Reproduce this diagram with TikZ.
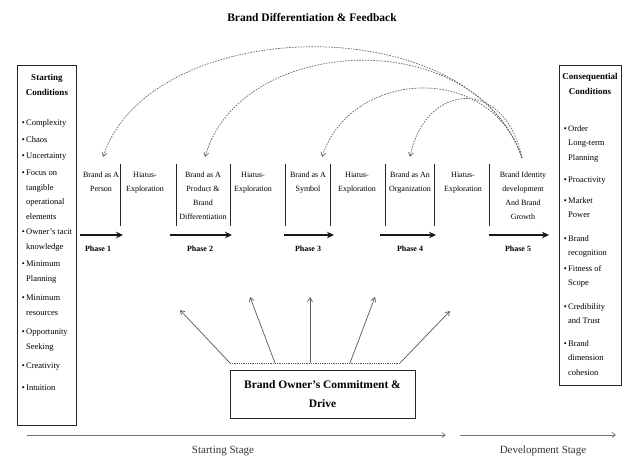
\documentclass[tikz,border=0pt]{standalone}
\usepackage{fontspec}
\setmainfont{Liberation Serif}
\usetikzlibrary{arrows.meta}
\begin{document}
\begin{tikzpicture}[x=1pt,y=-1pt,
  txt/.style={font=\fontsize{8}{14}\selectfont, align=center, inner sep=0pt, anchor=north},
  item/.style={font=\fontsize{8.5}{14.5}\selectfont, align=left, inner sep=0pt, anchor=north west},
  ttl/.style={font=\bfseries\fontsize{9}{15}\selectfont, align=center, inner sep=0pt, anchor=north},
  plabel/.style={font=\bfseries\fontsize{8}{10}\selectfont, inner sep=0pt},
  box/.style={draw=black!85, line width=0.8pt, inner sep=0pt},
  pline/.style={draw=black!85, line width=0.7pt},
  parrow/.style={draw=black!90, line width=1.6pt, -{Stealth[length=7pt,width=6.5pt]}},
  fb/.style={draw=black!60, line width=0.7pt, dash pattern=on 1.6pt off 1.2pt, -{Straight Barb[length=4pt,width=5pt]}},
  fan/.style={draw=black!65, line width=0.7pt, -{Straight Barb[length=4pt,width=5pt]}},
  stage/.style={draw=black!55, line width=0.7pt, -{Straight Barb[length=3.5pt,width=5pt]}},
]
\useasboundingbox (0,0) rectangle (630,459);
\fill[white] (0,0) rectangle (630,459);

% title
\node[font=\bfseries\fontsize{11.5}{13}\selectfont, inner sep=0pt] (title) at (312,18) {Brand Differentiation \& Feedback};

% left box
\node[box, minimum width=59pt, minimum height=360pt, anchor=north west] (lbox) at (17,65) {};
\node[ttl] (lttl) at (47,74) {Starting\\Conditions};
\node[item] (l1) at (26,119) {\llap{\textbullet\,}Complexity};
\node[item] (l2) at (26,136) {\llap{\textbullet\,}Chaos};
\node[item] (l3) at (26,153) {\llap{\textbullet\,}Uncertainty};
\node[item] (l4) at (26,170) {\llap{\textbullet\,}Focus on\\tangible\\operational\\elements};
\node[item] (l5) at (26,229) {\llap{\textbullet\,}Owner's tacit\\knowledge};
\node[item] (l6) at (26,261) {\llap{\textbullet\,}Minimum\\Planning};
\node[item] (l7) at (26,295) {\llap{\textbullet\,}Minimum\\resources};
\node[item] (l8) at (26,329) {\llap{\textbullet\,}Opportunity\\Seeking};
\node[item] (l9) at (26,363) {\llap{\textbullet\,}Creativity};
\node[item] (l10) at (26,385) {\llap{\textbullet\,}Intuition};

% right box
\node[box, minimum width=62pt, minimum height=320pt, anchor=north west] (rbox) at (559,65) {};
\node[ttl] (rttl) at (590,73) {Consequential\\Conditions};
\node[item] (r1) at (568,125) {\llap{\textbullet\,}Order\\Long-term\\Planning};
\node[item] (r2) at (568,177) {\llap{\textbullet\,}Proactivity};
\node[item] (r3) at (568,197) {\llap{\textbullet\,}Market\\Power};
\node[item] (r4) at (568,235) {\llap{\textbullet\,}Brand\\recognition};
\node[item] (r5) at (568,265) {\llap{\textbullet\,}Fitness of\\Scope};
\node[item] (r6) at (568,303) {\llap{\textbullet\,}Credibility\\and Trust};
\node[item] (r7) at (568,340) {\llap{\textbullet\,}Brand\\dimension\\cohesion};

% phase texts
\node[txt] (p1) at (101,172) {Brand as A\\Person};
\node[txt] (h1) at (145,172) {Hiatus-\\Exploration};
\node[txt] (p2) at (203,172) {Brand as A\\Product \&\\Brand\\Differentiation};
\node[txt] (h2) at (253,172) {Hiatus-\\Exploration};
\node[txt] (p3) at (308,172) {Brand as A\\Symbol};
\node[txt] (h3) at (357,172) {Hiatus-\\Exploration};
\node[txt] (p4) at (410,172) {Brand as An\\Organization};
\node[txt] (h4) at (463,172) {Hiatus-\\Exploration};
\node[txt] (p5) at (523,172) {Brand Identity\\development\\And Brand\\Growth};

% vertical lines
\coordinate (v1t) at (120,164); \coordinate (v1b) at (120,226);
\coordinate (v2t) at (176,164); \coordinate (v2b) at (176,226);
\coordinate (v3t) at (230,164); \coordinate (v3b) at (230,226);
\coordinate (v4t) at (285,164); \coordinate (v4b) at (285,226);
\coordinate (v5t) at (330,164); \coordinate (v5b) at (330,226);
\coordinate (v6t) at (385,164); \coordinate (v6b) at (385,226);
\coordinate (v7t) at (434,164); \coordinate (v7b) at (434,226);
\coordinate (v8t) at (489,164); \coordinate (v8b) at (489,226);
\foreach \i in {1,...,8} \draw[pline] (v\i t) -- (v\i b);

% phase arrows and labels
\coordinate (a1s) at (80,235);  \coordinate (a1e) at (123,235);
\coordinate (a2s) at (170,235); \coordinate (a2e) at (232,235);
\coordinate (a3s) at (284,235); \coordinate (a3e) at (334,235);
\coordinate (a4s) at (380,235); \coordinate (a4e) at (436,235);
\coordinate (a5s) at (489,235); \coordinate (a5e) at (549,235);
\foreach \i in {1,...,5} \draw[parrow] (a\i s) -- (a\i e);
\node[plabel] (ph1) at (98,249) {Phase 1};
\node[plabel] (ph2) at (200,249) {Phase 2};
\node[plabel] (ph3) at (308,249) {Phase 3};
\node[plabel] (ph4) at (410,249) {Phase 4};
\node[plabel] (ph5) at (518,249) {Phase 5};

% feedback arcs
\coordinate (fs) at (522,158);
\coordinate (t1) at (103,157);
\coordinate (t2) at (205,157);
\coordinate (t3) at (322,157);
\coordinate (t4) at (410,157);
\draw[fb] (fs) .. controls (470,6) and (150,14) .. (t1);
\draw[fb] (fs) .. controls (475,22) and (240,34) .. (t2);
\draw[fb] (fs) .. controls (490,60) and (350,70) .. (t3);
\draw[fb] (fs) .. controls (505,76) and (425,82) .. (t4);

% commitment box and fan
\node[box, minimum width=185pt, minimum height=48pt, align=center,
      font=\bfseries\fontsize{11.5}{19}\selectfont] (cbox) at (322.5,394) {Brand Owner's Commitment \&\\Drive};
\coordinate (d1) at (230,363);
\coordinate (d2) at (275,363);
\coordinate (d3) at (310,363);
\coordinate (d4) at (350,363);
\coordinate (d5) at (400,363);
\draw[draw=black!65, line width=0.7pt, dash pattern=on 1pt off 0.8pt] (d1) -- (d5);
\coordinate (e1) at (180,310);
\coordinate (e2) at (250,297);
\coordinate (e3) at (310,297);
\coordinate (e4) at (375,297);
\coordinate (e5) at (450,311);
\foreach \i in {1,...,5} \draw[fan] (d\i) -- (e\i);

% stage arrows
\coordinate (s1s) at (27,435); \coordinate (s1e) at (446,435);
\coordinate (s2s) at (460,435); \coordinate (s2e) at (616,435);
\draw[stage] (s1s) -- (s1e);
\draw[stage] (s2s) -- (s2e);
\node[font=\fontsize{11}{13}\selectfont, text=black!80, inner sep=0pt] (st1) at (223,451) {Starting Stage};
\node[font=\fontsize{11}{13}\selectfont, text=black!80, inner sep=0pt] (st2) at (543,451) {Development Stage};
\end{tikzpicture}
\end{document}
